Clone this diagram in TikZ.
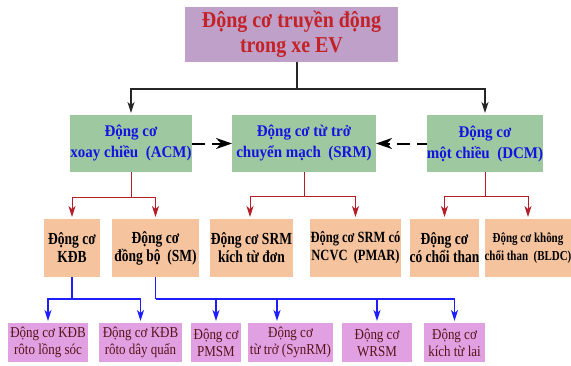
\documentclass[tikz,border=0pt]{standalone}
\usepackage{fontspec}
\setmainfont{Liberation Serif}
\newfontfamily\ftitle[FakeStretch=0.88]{Liberation Serif}
\newfontfamily\ftwo[FakeStretch=0.92]{Liberation Serif}
\newfontfamily\fthree[FakeStretch=0.8]{Liberation Serif}
\newfontfamily\ffour[FakeStretch=0.86]{Liberation Serif}
\usetikzlibrary{arrows.meta}
\definecolor{topfill}{RGB}{190,160,200}
\definecolor{toptext}{RGB}{195,35,40}
\definecolor{greenfill}{RGB}{158,200,160}
\definecolor{bluetext}{RGB}{20,20,225}
\definecolor{peachfill}{RGB}{245,195,158}
\definecolor{violetfill}{RGB}{225,160,225}
\definecolor{bottext}{RGB}{85,20,25}
\definecolor{redline}{RGB}{180,30,40}
\definecolor{blueline}{RGB}{30,30,255}
\tikzset{
  box/.style={inner sep=0pt, outer sep=0pt, align=center, anchor=center},
  topbox/.style={box, fill=topfill, text=toptext, font=\ftitle\bfseries\fontsize{22.7}{25}\selectfont},
  lvtwo/.style={box, fill=greenfill, text=bluetext, minimum height=57pt, font=\ftwo\bfseries\fontsize{16.3}{21}\selectfont},
  lvthree/.style={box, fill=peachfill, text=black, minimum height=58pt, font=\fthree\bfseries\fontsize{16.9}{18}\selectfont},
  lvfour/.style={box, fill=violetfill, text=bottext, minimum height=39pt, font=\ffour\fontsize{15.1}{17}\selectfont},
  blk/.style={draw=black!85, line width=1.2pt, -{Stealth[length=11pt,width=7pt,inset=3pt]}, shorten >=2pt},
  redarr/.style={draw=redline, line width=1pt, -{Stealth[length=11pt,width=7pt,inset=3pt]}, shorten >=2pt},
  bluarr/.style={draw=blueline, line width=1.4pt, -{Stealth[length=11pt,width=7pt,inset=3pt]}, shorten >=2pt},
  dasharr/.style={draw=black, line width=2pt, dash pattern=on 13pt off 7pt, -{Stealth[length=16pt,width=11pt,inset=5pt]}},
}
\begin{document}
\begin{tikzpicture}[x=1pt,y=-1pt]
\useasboundingbox (0,0) rectangle (571,365);
% top
\node[topbox, minimum width=213pt, minimum height=55pt] (top) at (291.5,34.5) {Động cơ truyền động\\trong xe EV};
% level 2
\node[lvtwo, minimum width=122pt] (acm) at (131,143.5) {Động cơ\\xoay chiều\ \ (ACM)};
\node[lvtwo, minimum width=144pt] (srm) at (304,143.5) {Động cơ từ trở\\chuyển mạch\ \ (SRM)};
\node[lvtwo, minimum width=110pt] (dcm) at (485,143.5) {Động cơ\\một chiều\ \ (DCM)};
% level 3
\node[lvthree, minimum width=56pt] (kdb) at (72,248) {Động cơ\\KĐB};
\node[lvthree, minimum width=87pt] (sm) at (155.5,248) {Động cơ\\đồng bộ\ \ (SM)};
\node[lvthree, minimum width=83pt] (srma) at (251.5,248) {Động cơ SRM\\kích từ đơn};
\node[lvthree, minimum width=91pt, font=\fthree\bfseries\fontsize{15.6}{18}\selectfont] (pmar) at (355.5,248) {Động cơ SRM có\\NCVC\ \ (PMAR)};
\node[lvthree, minimum width=65pt] (chth) at (444.5,248) {Động cơ\\có chổi than};
\node[lvthree, minimum width=86pt, font=\fthree\bfseries\fontsize{13.7}{18}\selectfont] (bldc) at (528,248) {Động cơ không\\chổi than\ \ (BLDC)};
% level 4
\node[lvfour, minimum width=80pt] (b1) at (48,342.5) {Động cơ KĐB\\rôto lồng sóc};
\node[lvfour, minimum width=83pt] (b2) at (140.5,342.5) {Động cơ KĐB\\rôto dây quấn};
\node[lvfour, minimum width=50pt] (b3) at (216,342.5) {Động cơ\\PMSM};
\node[lvfour, minimum width=85pt] (b4) at (290.5,342.5) {Động cơ\\từ trở (SynRM)};
\node[lvfour, minimum width=70pt] (b5) at (377,342.5) {Động cơ\\WRSM};
\node[lvfour, minimum width=61pt] (b6) at (454.5,342.5) {Động cơ\\kích từ lai};
% black connectors
\coordinate (j0) at (297,89);
\draw[draw=black!85, line width=1.2pt] ([xshift=5.5pt]top.south) -- (j0);
\draw[blk] (j0) -| (acm.north);
\draw[blk] (j0) -| (dcm.north);
% dashed
\draw[dasharr] (acm.east) -- (srm.west);
\draw[dasharr, dash phase=3pt] (dcm.west) -- (srm.east);
% red connectors
\coordinate (r1) at (131,197);
\coordinate (r2) at (304,196);
\coordinate (r3) at (485,196);
\draw[draw=redline, line width=1pt] (acm.south) -- (r1);
\draw[redarr] (r1) -| (kdb.north);
\draw[redarr] (r1) -| (sm.north);
\draw[draw=redline, line width=1pt] (srm.south) -- (r2);
\draw[redarr] (r2) -| ([xshift=-1.5pt]srma.north);
\draw[redarr] (r2) -| (pmar.north);
\draw[draw=redline, line width=1pt] (dcm.south) -- (r3);
\draw[redarr] (r3) -| (chth.north);
\draw[redarr] (r3) -| (bldc.north);
% blue connectors
\coordinate (u1) at (72,299);
\coordinate (u2) at (155.5,299);
\draw[draw=blueline, line width=1.4pt] (kdb.south) -- (u1);
\draw[bluarr] (u1) -| (b1.north);
\draw[bluarr] (u1) -| (b2.north);
\draw[draw=blueline, line width=1.4pt] (sm.south) -- (u2);
\draw[bluarr] (u2) -| (b3.north);
\draw[bluarr] (u2) -| ([xshift=-13.5pt]b4.north);
\draw[bluarr] (u2) -| (b5.north);
\draw[bluarr] (u2) -| (b6.north);
\end{tikzpicture}
\end{document}
